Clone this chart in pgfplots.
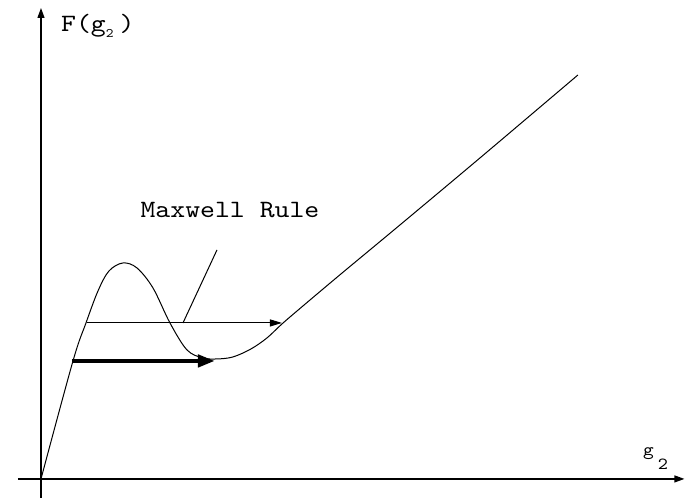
\documentclass[border=0pt]{standalone}
\usepackage{pgfplots}
\pgfplotsset{compat=1.18}
\usepackage{fontspec}
\setmainfont{lmmono10-regular.otf}[FakeStretch=1.14]
\usetikzlibrary{arrows.meta}

\begin{document}
\begin{tikzpicture}
\begin{axis}[
  scale only axis,
  width=685bp, height=498bp,
  xmin=-41, xmax=644, ymin=-19, ymax=479,
  hide axis,
  clip=false,
]
% frame extent
\path (axis cs:-41,-19) (axis cs:644,479);

% coordinate axes
\addplot[line width=1.2bp, -{Triangle[length=10bp,width=7bp]}] coordinates {(-23,0) (643.5,0)};
\addplot[line width=1.2bp, -{Triangle[length=10bp,width=7bp]}] coordinates {(0,-19) (0,471)};

% free energy curve
\addplot[line width=1bp, black, smooth, tension=0.55] coordinates {
  (0,0) (32,118) (45,156) (57,188) (68,208) (82,216) (96,211) (112,191)
  (129,156) (146,129) (162,121) (176,120) (192,122) (210,130) (226,141)
  (241,155) (262,173) (300,205) (359,254) (439,321) (537,404)
};

% Maxwell construction
\addplot[line width=1bp, -{Triangle[length=12bp,width=7bp]}] coordinates {(46,156) (241,156)};
\addplot[line width=4.5bp, -{Triangle[length=17bp,width=12bp]}] coordinates {(31,118) (174,118)};

% label pointer
\addplot[line width=1bp] coordinates {(142,156) (176,229)};

\node[anchor=base, font=\fontsize{25}{25}\selectfont] at (axis cs:189,261) {Maxwell Rule};

\node[anchor=base west, font=\fontsize{25}{25}\selectfont, inner sep=0pt] at (axis cs:20,447)
  {F(g\raisebox{-6bp}{\fontsize{13}{13}\selectfont 2}\hspace{6bp})};

\node[anchor=base west, font=\fontsize{18}{18}\selectfont, inner sep=0pt] at (axis cs:602,23)
  {g\hspace{4bp}\raisebox{-14bp}{\fontsize{17}{17}\selectfont 2}};
\end{axis}
\end{tikzpicture}
\end{document}
